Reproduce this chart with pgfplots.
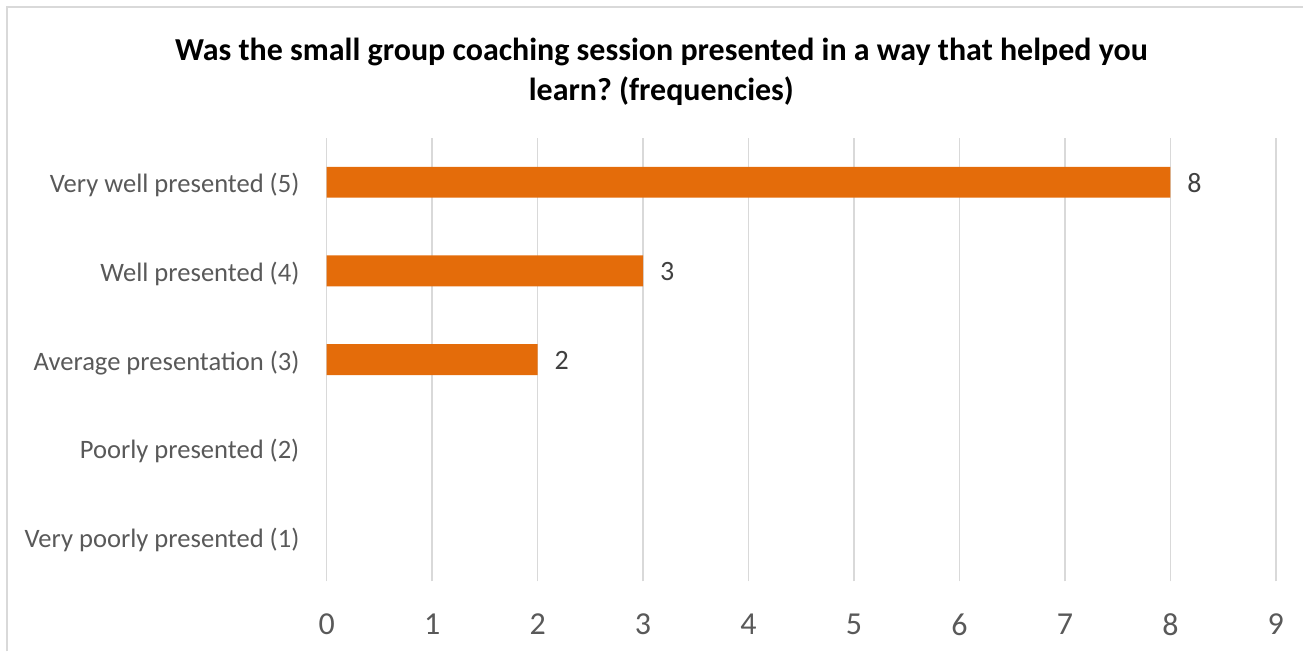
\documentclass[border=0pt]{standalone}
\usepackage{fontspec}
\setmainfont{Carlito}
\usepackage{pgfplots}
\pgfplotsset{compat=1.18}
\definecolor{barorange}{HTML}{E46C0A}
\definecolor{labelgray}{HTML}{595959}
\definecolor{datagray}{HTML}{404040}
\definecolor{gridgray}{HTML}{D9D9D9}
\begin{document}
\frenchspacing
\begin{tikzpicture}
% page size: 1 px of the reference = 0.5pt
\path (0,0) rectangle (652pt,326pt);
\draw[gridgray, line width=1.2pt] (3.6pt,0) -- (3.6pt,322.4pt) -- (652pt,322.4pt);
\node[align=center, font=\fontsize{16}{20}\selectfont\bfseries, text=black]
  at (331pt,290pt) {Was the small group coaching session presented in a way that helped you\\learn? (frequencies)};
\begin{axis}[
  at={(163.5pt,35pt)}, anchor=south west,
  scale only axis,
  width=475pt, height=222pt,
  xbar, bar width=15.5pt,
  xmin=0, xmax=9, ymin=0.5, ymax=5.5,
  xtick={0,...,9},
  ytick={1,2,3,4,5},
  yticklabels={Very poorly presented (1),Poorly presented (2),Average presentation (3),Well presented (4),Very well presented (5)},
  axis line style={draw=none},
  major tick length=0pt,
  xmajorgrids, grid style={gridgray, line width=0.8pt},
  xticklabel style={anchor=center, yshift=-21.5pt, text=labelgray, font=\fontsize{16}{18}\selectfont},
  yticklabel style={anchor=east, inner sep=0pt, xshift=-13.5pt, yshift=-1.5pt, text=labelgray, font=\fontsize{13.3}{16}\selectfont},
  /pgf/number format/assume math mode=true,
  nodes near coords,
  every node near coord/.append style={anchor=west, xshift=5pt, yshift=-0.5pt, text=datagray, font=\fontsize{14}{16}\selectfont},
]
\addplot[fill=barorange, draw=none] coordinates {(8,5) (3,4) (2,3)};
\end{axis}
\end{tikzpicture}
\end{document}
